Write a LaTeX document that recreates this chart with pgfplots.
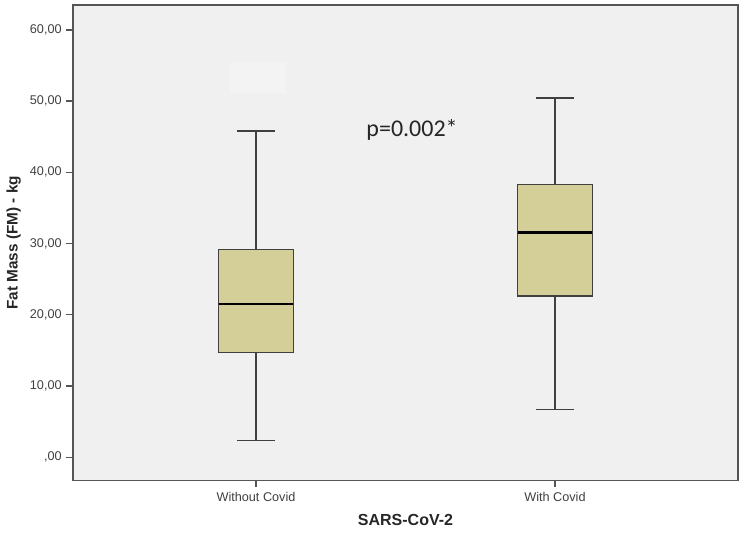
\documentclass[border=0pt]{standalone}
\usepackage{pgfplots}
\pgfplotsset{compat=1.18}
\usepackage{fontspec}
\setmainfont{Liberation Sans}
\newfontfamily\calibri{Carlito}
\definecolor{boxfill}{HTML}{D4CE98}
\definecolor{bg}{HTML}{F0F0F0}
\definecolor{frame}{HTML}{555555}
\begin{document}
\begin{tikzpicture}
\useasboundingbox (-54.75pt,-39.2pt) rectangle (503.25pt,360.55pt);
\begin{axis}[
    at={(0,0)}, anchor=south west,
    scale only axis,
    width=498.75pt, height=356.8pt,
    xmin=-0.612, xmax=1.612,
    ymin=-3.3, ymax=63.5,
    xtick={0,1},
    xticklabels={Without Covid, With Covid},
    ytick={0,10,20,30,40,50,60},
    yticklabels={{,00},{10,00},{20,00},{30,00},{40,00},{50,00},{60,00}},
    xtick pos=left, ytick pos=left,
    tick align=outside,
    major tick length=5pt,
    tick style={frame, line width=1pt},
    axis background/.style={fill=bg},
    axis line style={frame, line width=1pt},
    ticklabel style={font=\fontsize{9.5}{11}\selectfont, text=black!75},
    xlabel={\bfseries SARS-CoV-2},
    ylabel={\bfseries Fat Mass (FM) - kg},
    xlabel style={font=\fontsize{12}{14}\selectfont, text=black!85, yshift=-3pt},
    ylabel style={font=\fontsize{11.5}{13}\selectfont, text=black!85},
    clip=false,
]
\fill[white, opacity=0.2] (axis cs:-0.087,51.2) rectangle (axis cs:0.1,55.5);
% Without Covid: whiskers 2.35 / 45.8, quartiles 14.75 / 29.2, median 21.5
\addplot[draw=black!75, line width=1.1pt] coordinates {(0,29.2) (0,45.8)};
\addplot[draw=black!75, line width=1.1pt] coordinates {(-0.0625,45.8) (0.0625,45.8)};
\addplot[draw=black!75, line width=1.1pt] coordinates {(0,14.75) (0,2.35)};
\addplot[draw=black!75, line width=1.1pt] coordinates {(-0.0625,2.35) (0.0625,2.35)};
\addplot[draw=black!75, fill=boxfill, line width=0.9pt] coordinates {(-0.125,14.75) (0.125,14.75) (0.125,29.2) (-0.125,29.2)} -- cycle;
\addplot[draw=black, line width=2pt] coordinates {(-0.125,21.5) (0.125,21.5)};
% With Covid: whiskers 6.7 / 50.46, quartiles 22.65 / 38.24, median 31.6
\addplot[draw=black!75, line width=1.1pt] coordinates {(1,38.24) (1,50.46)};
\addplot[draw=black!75, line width=1.1pt] coordinates {(0.9375,50.46) (1.0625,50.46)};
\addplot[draw=black!75, line width=1.1pt] coordinates {(1,22.65) (1,6.7)};
\addplot[draw=black!75, line width=1.1pt] coordinates {(0.9375,6.7) (1.0625,6.7)};
\addplot[draw=black!75, fill=boxfill, line width=0.9pt] coordinates {(0.875,22.65) (1.125,22.65) (1.125,38.24) (0.875,38.24)} -- cycle;
\addplot[draw=black, line width=2pt] coordinates {(0.875,31.6) (1.125,31.6)};
\node[font=\calibri\fontsize{18}{20}\selectfont, text=black!85] at (axis cs:0.522,45.9) {p=0.002*};
\end{axis}
\end{tikzpicture}
\end{document}
